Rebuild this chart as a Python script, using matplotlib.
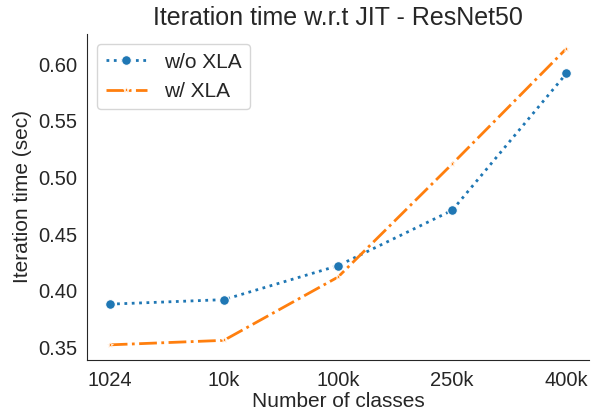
import numpy as np
import matplotlib
matplotlib.use("Agg")
import matplotlib.pyplot as plt
import seaborn as sns

sns.set_style("white")
plt.rcParams['font.family'] = ['Liberation Sans', 'DejaVu Sans']

classes = ['1024', '10k', '100k', '250k', '400k']
no_xla = [0.388, 0.392, 0.422, 0.471, 0.592]
with_xla = [0.352, 0.356, 0.412, 0.512, 0.614]

fig = plt.figure(figsize=(5.91, 4.12), dpi=100)
ax = fig.add_axes([0.147, 0.127, 0.85, 0.791])

x = np.arange(len(classes))
ax.plot(x, no_xla, linestyle=':', color='#1f77b4', linewidth=2,
        marker='o', markersize=7, markeredgecolor='white', markeredgewidth=0.8,
        label='w/o XLA')
ax.plot(x, with_xla, linestyle='-.', color='#ff7f0e', linewidth=2,
        marker='*', markersize=4, markeredgecolor='white', markeredgewidth=0.5,
        label='w/ XLA')

ax.set_xticks(x)
ax.set_xticklabels(classes)
ax.set_yticks([0.35, 0.40, 0.45, 0.50, 0.55, 0.60])
ax.tick_params(labelsize=14.5)
ax.tick_params(axis='x', pad=5)
ax.set_xlabel('Number of classes', fontsize=15, labelpad=1)
ax.set_ylabel('Iteration time (sec)', fontsize=15)
ax.set_title('Iteration time w.r.t JIT - ResNet50', fontsize=18)
ax.legend(loc='upper left', fontsize=15)
sns.despine(ax=ax)

fig.savefig('out.png', dpi=100)
